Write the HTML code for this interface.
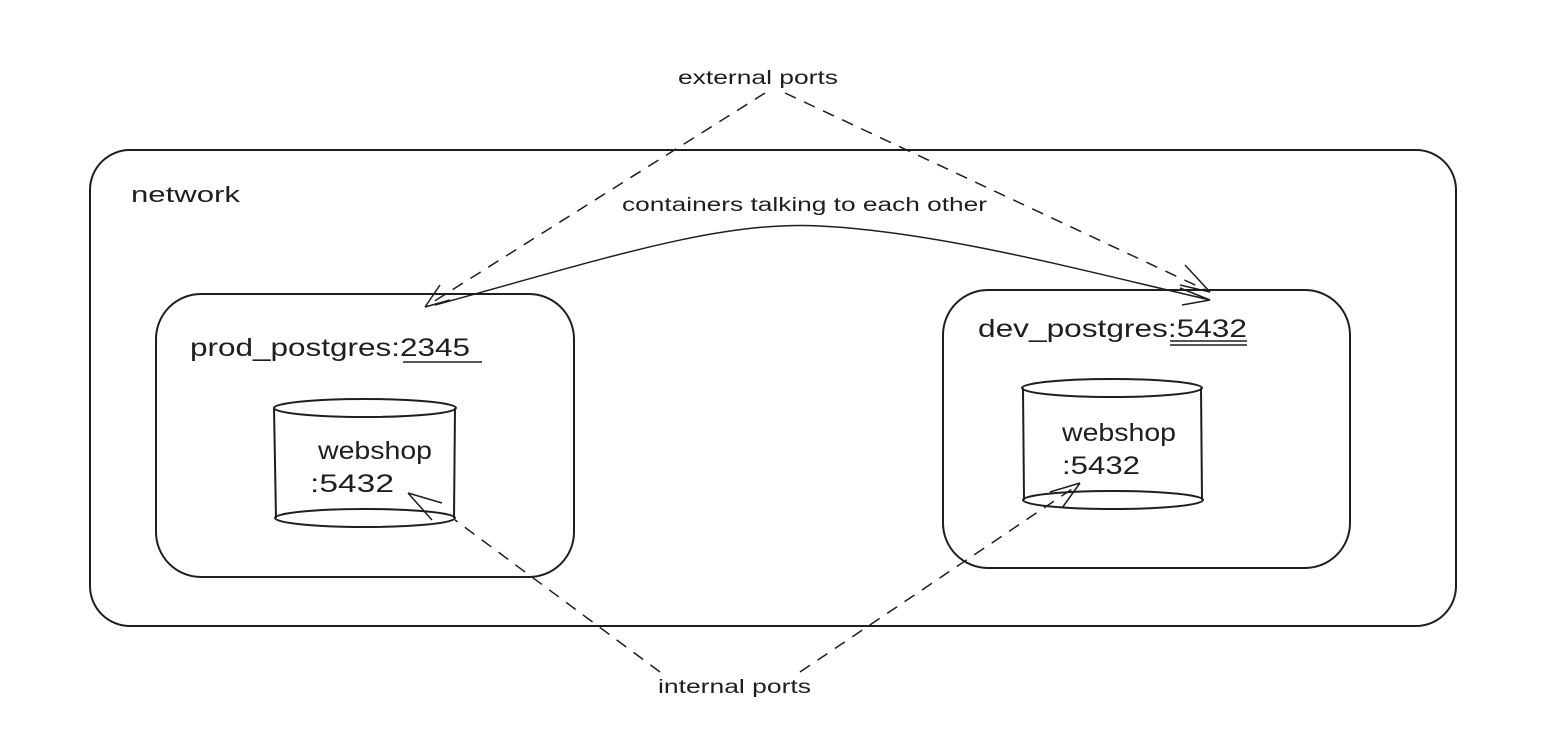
<!DOCTYPE html>
<html><head><style>
body{margin:0;background:#fff;}
svg{display:block;}
text{font-family:"Liberation Sans",sans-serif;fill:#1e1e1e;}
</style></head><body>
<svg width="1550" height="752" viewBox="0 0 1550 752" xmlns="http://www.w3.org/2000/svg">
<g fill="none" stroke="#1e1e1e" stroke-width="2">
<rect x="90" y="150" width="1366" height="476" rx="40"/>
<rect x="156" y="294" width="418" height="283" rx="45"/>
<rect x="943" y="290" width="407" height="278" rx="45"/>
<path d="M274 408 L276 518 M455 408 L454 518"/>
<ellipse cx="365" cy="408" rx="91" ry="9"/>
<ellipse cx="365" cy="518" rx="90" ry="9"/>
<path d="M1023 388 L1024 500 M1201 388 L1202 500"/>
<ellipse cx="1112" cy="388" rx="90" ry="9"/>
<ellipse cx="1113" cy="500" rx="90" ry="9"/>
<path d="M403 362 L482 362" stroke-width="1.5"/>
<path d="M1170 341 L1247 341 M1170 345 L1247 345" stroke-width="1.5"/>
<g stroke-dasharray="12 9" stroke-width="1.5">
<path d="M765 93 L425 307"/>
<path d="M785 93 L1210 292"/>
<path d="M660 672 L455 520"/>
<path d="M800 672 L1078 485"/>
</g>
<g stroke-width="1.5">
<path d="M425 307 L440 285 M425 307 L450 300"/>
<path d="M1210 292 L1185 265 M1210 292 L1180 285"/>
<path d="M408 493 L432 520 M408 493 L442 503"/>
<path d="M1080 483 L1050 492 M1080 483 L1062 508"/>
<path d="M435 305 C600 260 720 220 820 226 C940 232 1080 270 1210 300"/>
<path d="M1210 300 L1180 288 M1210 300 L1182 305"/>
</g>
</g>
<text x="131" y="202" font-size="22" textLength="109" lengthAdjust="spacingAndGlyphs">network</text>
<text x="678" y="84" font-size="19" textLength="160" lengthAdjust="spacingAndGlyphs">external ports</text>
<text x="622" y="211" font-size="19" textLength="365" lengthAdjust="spacingAndGlyphs">containers talking to each other</text>
<text x="658" y="693" font-size="19" textLength="153" lengthAdjust="spacingAndGlyphs">internal ports</text>
<text x="190" y="356" font-size="25" textLength="280" lengthAdjust="spacingAndGlyphs">prod_postgres:2345</text>
<text x="978" y="337" font-size="25" textLength="269" lengthAdjust="spacingAndGlyphs">dev_postgres:5432</text>
<text x="318" y="459" font-size="25" textLength="114" lengthAdjust="spacingAndGlyphs">webshop</text>
<text x="310" y="492" font-size="25" textLength="84" lengthAdjust="spacingAndGlyphs">:5432</text>
<text x="1062" y="441" font-size="25" textLength="114" lengthAdjust="spacingAndGlyphs">webshop</text>
<text x="1062" y="474" font-size="25" textLength="78" lengthAdjust="spacingAndGlyphs">:5432</text>
</svg>
</body></html>
